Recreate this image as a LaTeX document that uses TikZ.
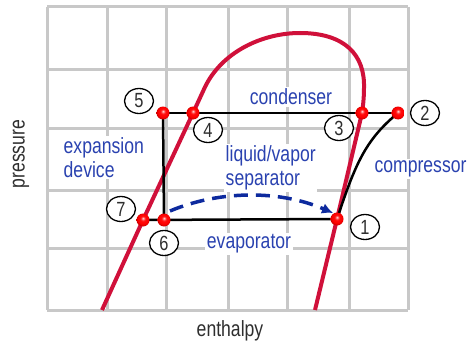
\documentclass[tikz,border=0pt]{standalone}
\usepackage{fontspec}
\setmainfont[FakeStretch=0.8]{Liberation Sans}
\usetikzlibrary{shapes.geometric,arrows.meta}
\definecolor{gridgray}{HTML}{C8C8C8}
\definecolor{curvered}{HTML}{D0103A}
\definecolor{labblue}{HTML}{2A42B0}
\definecolor{arrblue}{HTML}{0D2A9E}
\definecolor{txtgray}{HTML}{2E2E2E}
\pgfdeclareradialshading{redball}{\pgfpoint{0bp}{7bp}}{%
  color(0bp)=(red!15!white); color(9bp)=(red!95!white); color(20bp)=(red); color(26bp)=(red!80!black); color(50bp)=(red!80!black)}
\begin{document}
\begin{tikzpicture}[x=1pt,y=-1pt,
  gridline/.style={gridgray, line width=3pt},
  lab/.style={text=labblue, font=\fontsize{22}{23.5}\selectfont, fill=white, inner sep=1.5pt, align=left},
  axlab/.style={text=txtgray, font=\fontsize{22}{23.5}\selectfont, inner sep=0pt},
  num/.style={ellipse, draw=black, line width=1.3pt, fill=white, minimum width=29pt, minimum height=25pt, inner sep=0pt, font=\fontsize{20.5}{20}\selectfont, text=txtgray},
  dot/.style={circle, minimum size=13pt, inner sep=0pt, shading=redball},
  cyc/.style={line width=2.5pt, black},
]
\useasboundingbox (0,0) rectangle (468,345);
% grid
\foreach \x in {47,107,166,228,287,349,408}
  \draw[gridline] (\x,7) -- (\x,310);
\foreach \y in {7,69,128,190,248,310}
  \draw[gridline] (47,\y) -- (408,\y);
% labels
\node[lab] (lcond) at (291,97) {condenser};
\node[lab, anchor=west] (lexp) at (62,157.5) {expansion\\device};
\node[lab, anchor=west] (lsep) at (224,168) {liquid/vapor\\separator};
\node[lab] (lcomp) at (420.5,169) {compressor};
\node[lab] (levap) at (249,244) {evaporator};
\node[axlab, rotate=90] (lpres) at (21,154) {pressure};
\node[axlab] (lenth) at (230,331) {enthalpy};
% state points
\coordinate (c1) at (337,219);
\coordinate (c2) at (398,113);
\coordinate (c3) at (362,113);
\coordinate (c4) at (193,113);
\coordinate (c5) at (163,113);
\coordinate (c6) at (164,220);
\coordinate (c7) at (143,220);
% saturation dome
\draw[curvered, line width=4pt, line join=round]
  (102,310) -- (c7) -- (c4) -- (205,87)
  .. controls (222,52) and (262,33) .. (300,33)
  .. controls (345,33) and (365,55) .. (364,88)
  .. controls (364,98) and (363,106) .. (c3) -- (c1) -- (315,310);
% cycle
\draw[cyc] (c5) -- (c2);
\draw[cyc] (c5) -- (c6);
\draw[cyc] (c7) -- (c1);
\draw[cyc] (c1) .. controls (355,165) and (365,140) .. (c2);
% dashed arrow
\draw[arrblue, line width=3.5pt, dash pattern=on 14pt off 8pt, -{Latex[length=11pt,width=11pt]}]
  ([shift={(6,-9)}]c6) .. controls (220,190) and (280,190) .. ([shift={(-4,-6)}]c1);
% dots
\node[dot] (p1) at (c1) {};
\node[dot] (p2) at (c2) {};
\node[dot] (p3) at (c3) {};
\node[dot] (p4) at (c4) {};
\node[dot] (p5) at (c5) {};
\node[dot] (p6) at (c6) {};
\node[dot] (p7) at (c7) {};
% numbers
\node[num] (n1) at (365,227) {1};
\node[num] (n2) at (425,113) {2};
\node[num] (n3) at (339,128) {3};
\node[num] (n4) at (208,130) {4};
\node[num] (n5) at (139,101) {5};
\node[num] (n6) at (164,243) {6};
\node[num] (n7) at (121,209) {7};
\end{tikzpicture}
\end{document}
